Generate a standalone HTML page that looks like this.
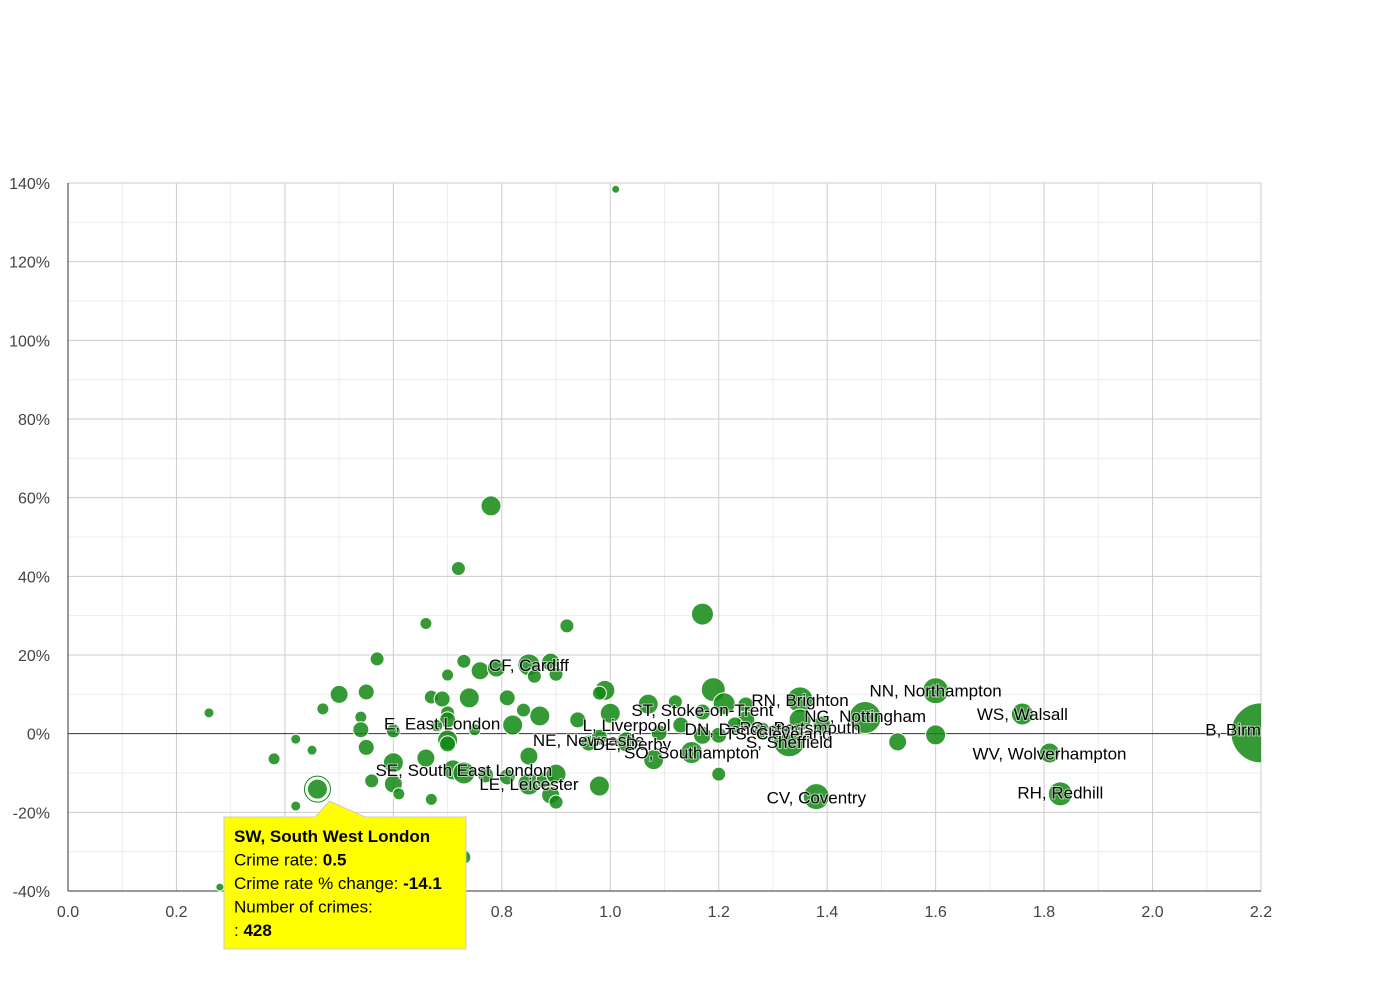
<!DOCTYPE html>
<html><head><meta charset="utf-8"><style>
body{margin:0;background:#fff;}
svg{font-family:"Liberation Sans",Arial,sans-serif;}
</style></head><body>
<svg id="chart" width="1390" height="980" viewBox="0 0 1390 980" xmlns="http://www.w3.org/2000/svg">
<defs><clipPath id="plotclip"><rect x="68" y="175" width="1193" height="720"/></clipPath></defs>
<g id="grid"></g><g id="axes"></g><g id="marks" clip-path="url(#plotclip)"></g><g id="labels" clip-path="url(#plotclip)"></g><g id="tip"></g>
</svg>
<script>
const xTicks=[0,0.2,0.4,0.6,0.8,1.0,1.2,1.4,1.6,1.8,2.0,2.2];
const yTicks=[-40,-20,0,20,40,60,80,100,120,140];
const xs=[0.26,1.01,0.78,0.72,1.17,0.66,0.92,0.57,0.73,0.76,0.79,0.85,0.89,0.86,0.90,0.70,0.50,0.55,0.47,0.67,0.69,0.74,0.81,0.99,0.98,0.54,0.70,0.70,0.84,0.87,0.82,0.54,0.60,0.75,0.68,0.70,0.70,0.42,0.45,0.55,0.38,0.66,0.60,0.85,0.56,0.60,0.61,0.67,0.42,0.71,0.73,0.77,0.81,0.85,0.88,0.90,0.89,0.90,0.98,0.73,0.28,0.96,0.98,1.03,1.00,1.07,1.12,1.08,1.15,1.20,1.19,1.21,1.25,1.17,1.25,1.23,1.31,1.33,1.35,1.35,1.39,1.47,1.53,1.60,1.60,1.76,1.81,1.83,1.38,2.20,1.09,1.13,1.17,1.28,1.20,0.94,0.46];
const ys=[5.3,138.4,57.9,42,30.4,28,27.4,19,18.4,16,16.7,17.5,18.2,14.6,15.1,14.9,10,10.6,6.3,9.3,8.8,9.1,9.1,11,10.3,4.2,5.3,3.5,6,4.5,2.2,1,0.7,1,2,-1.6,-2.6,-1.4,-4.2,-3.5,-6.4,-6.2,-7.4,-5.7,-12,-12.8,-15.3,-16.7,-18.4,-9.2,-10,-10.5,-11,-12.8,-11.8,-10.3,-15.6,-17.4,-13.3,-31.4,-39,-2.4,-0.9,-2.1,5.2,7.5,8.1,-6.6,-4.8,-10.3,11.2,7.6,7.3,5.5,3.5,2.2,0.2,-1.8,8.6,3.5,2.2,4.1,-2.1,10.9,-0.3,5.0,-4.9,-15.3,-16.0,0.2,0.2,2.2,-0.4,0.9,-0.4,3.5,-14.1];
const sizes=[5,4,10,7,11,6,7,7,7,9,9,11,9,7,7,6,9,8,6,7,8,10,8,10,7,6,7,8,7,10,10,8,7,6,6,10,8,5,5,8,6,9,10,9,7,9,6,6,5,10,11,8,8,11,9,10,9,7,10,7,4,8,8,10,10,10,7,10,11,7,12,11,8,8,9,8,10,16,13,11,9,16,9,13,10,11,10,12,13,30,8,8,9,8,8,8,10];
const labelNames=["CF, Cardiff","E, East London","L, Liverpool","NE, Newcastle","DE, Derby","ST, Stoke-on-Trent","RN, Brighton","NG, Nottingham","PO, Portsmouth","DN, Doncaster","TS, Cleveland","S, Sheffield","SO, Southampton","SE, South East London","LE, Leicester","NN, Northampton","WS, Walsall","WV, Wolverhampton","RH, Redhill","CV, Coventry","B, Birmingham"];
const labelX=[0.85,0.69,1.03,0.96,1.04,1.17,1.35,1.47,1.35,1.24,1.31,1.33,1.15,0.73,0.85,1.60,1.76,1.81,1.83,1.38,2.20];
const labelY=[17.5,2.6,2.2,-1.6,-2.6,6,8.6,4.5,1.6,1.2,0,-2.1,-4.8,-9.2,-12.8,11,5,-5,-15,-16.2,1];

const X0=68,X1=1261,Y0=891,Y1=183;
const sx=v=>X0+(v-0)/(2.2-0)*(X1-X0);
const sy=v=>Y0-(v+40)/(180)*(Y0-Y1);
const NS="http://www.w3.org/2000/svg";
function mk(tag,attrs,parent){const e=document.createElementNS(NS,tag);for(const k in attrs)e.setAttribute(k,attrs[k]);parent.appendChild(e);return e;}
const grid=document.getElementById('grid'),axes=document.getElementById('axes'),marks=document.getElementById('marks'),labels=document.getElementById('labels'),tip=document.getElementById('tip');
// minor grid
for(let i=0;i<22;i++){const v=0.1+i*0.2;if(v>2.2)break;const l=mk('line',{x1:sx(v),x2:sx(v),y1:Y1,y2:Y0,stroke:'#ececec'},grid);

}
for(let v=-30;v<140;v+=20){const l=mk('line',{x1:X0,x2:X1,y1:sy(v),y2:sy(v),stroke:'#ececec'},grid);

}
xTicks.forEach(v=>{const l=mk('line',{x1:sx(v),x2:sx(v),y1:Y1,y2:Y0,stroke:'#cccccc'},grid);


const t=mk('text',{x:sx(v),y:Y0+26,'text-anchor':'middle','font-size':16,fill:'#444'},axes);t.textContent=v.toFixed(1);

});
yTicks.forEach(v=>{const l=mk('line',{x1:X0,x2:X1,y1:sy(v),y2:sy(v),stroke:v===0?'#333':'#cccccc'},grid);


const t=mk('text',{x:50,y:sy(v)+6,'text-anchor':'end','font-size':16,fill:'#444'},axes);t.textContent=v+'%';

});
const ax=mk('line',{x1:X0,x2:X0,y1:Y1,y2:Y0,stroke:'#333'},axes);


const bx=mk('line',{x1:X0,x2:X1,y1:Y0,y2:Y0,stroke:'#333'},axes);


xs.forEach((v,i)=>{const c=mk('circle',{cx:sx(v),cy:sy(ys[i]),r:sizes[i],fill:'#128812','fill-opacity':0.85,stroke:'#fff','stroke-width':1},marks);

});
labelNames.forEach((n,i)=>{const t=mk('text',{x:sx(labelX[i]),y:sy(labelY[i])+6,'text-anchor':'middle','font-size':17,fill:'#000',stroke:'#fff','stroke-width':2,'paint-order':'stroke','stroke-opacity':0.6},labels);t.textContent=n;

});
// highlighted point + tooltip
const hx=sx(xs[xs.length-1]),hy=sy(ys[ys.length-1]);
const hc=mk('circle',{cx:hx,cy:hy,r:13,fill:'none',stroke:'#128812','stroke-width':1},tip);


const tb=mk('path',{d:`M224 817 L315 817 L${hx+12} ${hy+12} L365 817 L466 817 L466 949 L224 949 Z`,fill:'#ffff00',stroke:'#cccccc'},tip);


const lines=[["SW, South West London",""],["Crime rate: ","0.5"],["Crime rate % change: ","-14.1"],["Number of crimes:",""],[": ","428"]];
lines.forEach((l,i)=>{const t=mk('text',{x:234,y:842+i*23.5,'font-size':17,fill:'#000'},tip);


if(i===0){t.setAttribute('font-weight','bold');t.textContent=l[0];}
else{t.textContent=l[0];const b=mk('tspan',{'font-weight':'bold'},t);b.textContent=l[1];}});
</script>
</body></html>
